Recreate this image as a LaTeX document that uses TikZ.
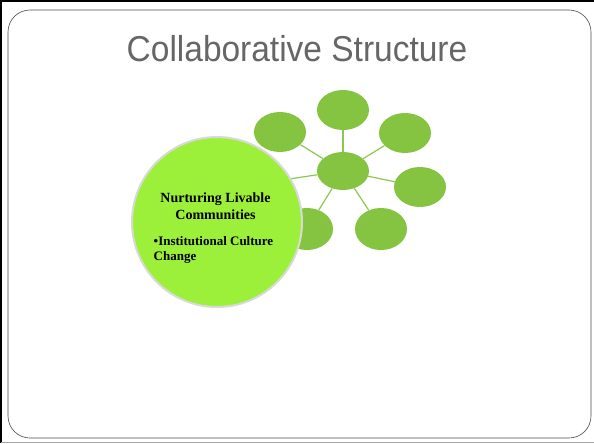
\documentclass[tikz,border=0pt]{standalone}
\usepackage{fontspec}
\setmainfont{Liberation Serif}
\newfontfamily\titlefont{Liberation Sans}
\usetikzlibrary{shapes.geometric}
\definecolor{limegreen}{HTML}{9CF03A}
\definecolor{leafgreen}{HTML}{85C441}
\definecolor{spokegreen}{HTML}{8CC850}
\definecolor{titlegray}{HTML}{666666}
\tikzset{
  satellite/.style={ellipse, fill=leafgreen, minimum width=52pt, minimum height=40pt, inner sep=0pt},
  spoke/.style={draw=spokegreen, line width=1.2pt},
}
\begin{document}
\begin{tikzpicture}[x=1pt,y=-1pt]
	\useasboundingbox (0,0) rectangle (594,444);
	% Rahmen
	\fill[white] (0,0) rectangle (594,444);
	\draw[line width=1.5pt] (1,443) -- (1,1) -- (594,1);
	\draw[black!35, line width=1pt] (1,442) -- (594,442);
	\draw[black!70, line width=0.6pt, rounded corners=22pt] (8,10) rectangle (591,438);
	% Titel
	\node[anchor=base, text=titlegray, font=\titlefont\fontsize{36}{40}\selectfont, inner sep=0pt]
		(title) at (297,62) {\scalebox{0.93}[1]{Collaborative Structure}};
	% Kreise
	\node[satellite, minimum height=38pt] (hub) at (343,171) {};
	\node[satellite] (top) at (343,110) {};
	\node[satellite] (upright) at (405,133) {};
	\node[satellite] (right) at (420,187) {};
	\node[satellite, minimum height=42pt] (lowright) at (381,229) {};
	\node[satellite, minimum height=42pt] (lowleft) at (307,229) {};
	\node[satellite] (upleft) at (280,132) {};
	\node[satellite] (left) at (255,184) {};
	% Verbindungen
	\foreach \sat in {top,upright,right,lowright,lowleft,upleft,left}
		\draw[spoke] (hub) -- (\sat);
	% Grosser Kreis
	\node[circle, fill=limegreen, draw=black!15, line width=2pt, minimum size=170pt] (main) at (217,222) {};
	\node[anchor=base, font=\bfseries\fontsize{14}{17}\selectfont, align=center, inner sep=0pt]
		(heading) at (215.5,219) {Nurturing Livable\\Communities};
	\node[anchor=base west, font=\bfseries\fontsize{13}{15}\selectfont, align=left, inner sep=0pt]
		(bullet) at (153.5,260) {\textbullet Institutional Culture\\Change};
\end{tikzpicture}
\end{document}
